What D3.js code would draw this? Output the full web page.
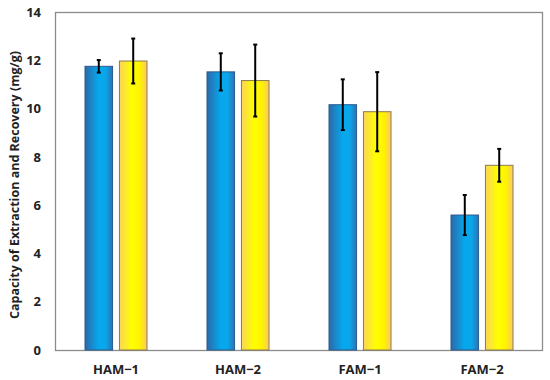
<!DOCTYPE html>
<html><head><meta charset="utf-8">
<script src="https://cdn.jsdelivr.net/npm/d3@7"></script>
<style>body{margin:0;background:#fff}svg{display:block}text{font-family:"Open Sans","Liberation Sans",sans-serif}</style>
</head><body>
<svg id="c" width="550" height="380"></svg>
<script>
const categories = ["HAM\u22121", "HAM\u22122", "FAM\u22121", "FAM\u22122"];
const seriesNames = ["A", "B"];
const valuesA = [11.75, 11.52, 10.16, 5.59];
const errorsA = [0.26, 0.77, 1.05, 0.83];
const valuesB = [11.97, 11.16, 9.87, 7.65];
const errorsB = [0.93, 1.49, 1.64, 0.68];
const yTicks = [0, 2, 4, 6, 8, 10, 12, 14];
const yLabel = "Capacity of Extraction and Recovery  (mg/g)";

const svg = d3.select("#c");
const m = {l: 55, r: 7, t: 12, b: 30};
const W = 550, H = 380;
const x = d3.scaleBand().domain(categories).range([m.l, W - m.r]);
const xs = d3.scaleBand().domain(seriesNames).range([0, 62]).paddingInner(0.2);
const y = d3.scaleLinear().domain([0, 14]).range([H - m.b, m.t]);

const defs = svg.append("defs");
const gb = defs.append("linearGradient").attr("id", "gb").attr("x1", "0").attr("x2", "1").attr("y1", "0").attr("y2", "0");
gb.append("stop").attr("offset", "0").attr("stop-color", "#2b6aa8");
gb.append("stop").attr("offset", "0.5").attr("stop-color", "#06a8ee");
gb.append("stop").attr("offset", "0.75").attr("stop-color", "#0aa6ea");
gb.append("stop").attr("offset", "1").attr("stop-color", "#2a73b5");
const gy = defs.append("linearGradient").attr("id", "gy").attr("x1", "0").attr("x2", "1").attr("y1", "0").attr("y2", "0");
gy.append("stop").attr("offset", "0").attr("stop-color", "#fbd45a");
gy.append("stop").attr("offset", "0.45").attr("stop-color", "#ffff00");
gy.append("stop").attr("offset", "0.75").attr("stop-color", "#fff200");
gy.append("stop").attr("offset", "1").attr("stop-color", "#fcc86a");

// frame
svg.append("rect").attr("x", m.l + 0.5).attr("y", m.t + 0.5)
  .attr("width", W - m.r - m.l - 1).attr("height", H - m.b - m.t)
  .attr("fill", "none").attr("stroke", "#8c8c8c").attr("stroke-width", 1.3);

// y axis labels
svg.append("g").selectAll("text").data(yTicks).join("text")
  .attr("x", 41).attr("y", d => y(d)).attr("dy", "0.36em")
  .attr("text-anchor", "end").attr("font-size", 13).attr("font-weight", "bold").attr("fill", "#222")
  .text(d => d);

// x labels
svg.append("g").selectAll("text").data(categories).join("text")
  .attr("x", d => x(d) + x.bandwidth() / 2).attr("y", 374)
  .attr("text-anchor", "middle").attr("font-size", 13).attr("font-weight", "bold").attr("fill", "#222")
  .text(d => d);

// y title
svg.append("text").attr("transform", "translate(19,185) rotate(-90)")
  .attr("text-anchor", "middle").attr("font-size", 12.5).attr("font-weight", "bold").attr("fill", "#222")
  .text(yLabel);

const rows = categories.map((c, i) => [
  {c, s: "A", v: valuesA[i], e: errorsA[i]},
  {c, s: "B", v: valuesB[i], e: errorsB[i]}
]).flat();
const off = (x.bandwidth() - 62) / 2;

svg.append("g").selectAll("rect").data(rows).join("rect")
  .attr("x", d => x(d.c) + off + xs(d.s))
  .attr("y", d => y(d.v))
  .attr("width", xs.bandwidth())
  .attr("height", d => y(0) - y(d.v))
  .attr("fill", d => d.s === "A" ? "url(#gb)" : "url(#gy)")
  .attr("stroke", d => d.s === "A" ? "#2c5a8c" : "#8a7a50")
  .attr("stroke-width", 1);

const eg = svg.append("g").attr("stroke", "#000").attr("stroke-width", 2);
rows.forEach(d => {
  const cx = x(d.c) + off + xs(d.s) + xs.bandwidth() / 2;
  eg.append("line").attr("x1", cx).attr("x2", cx).attr("y1", y(d.v + d.e)).attr("y2", y(d.v - d.e));
  eg.append("line").attr("x1", cx - 2).attr("x2", cx + 2).attr("y1", y(d.v + d.e)).attr("y2", y(d.v + d.e));
  eg.append("line").attr("x1", cx - 2).attr("x2", cx + 2).attr("y1", y(d.v - d.e)).attr("y2", y(d.v - d.e));
});
</script>
</body></html>
